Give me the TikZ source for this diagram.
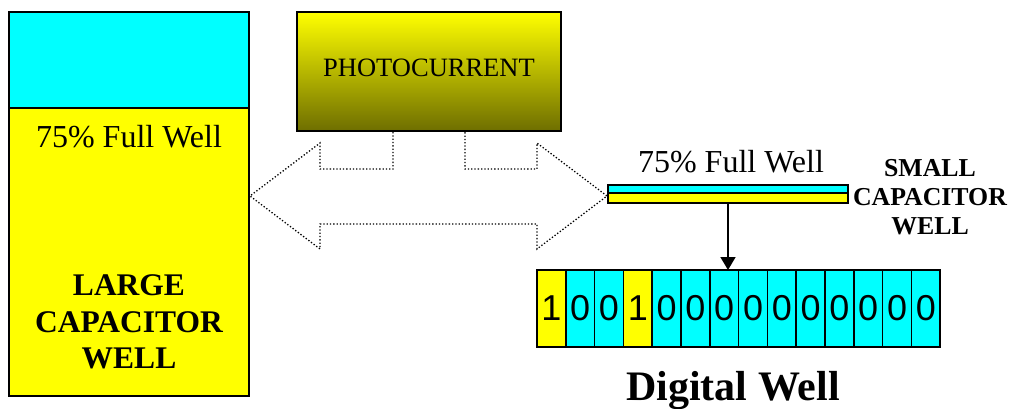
\documentclass[tikz,border=0pt]{standalone}
\usepackage{fontspec}
\setmainfont{Liberation Serif}
\newfontfamily\arialf{Liberation Sans}
\usetikzlibrary{arrows.meta,calc}
\definecolor{cyanw}{RGB}{0,255,255}
\definecolor{yelw}{RGB}{255,255,0}
\definecolor{olivew}{RGB}{110,110,0}
\tikzset{
  wellbox/.style={draw=black,line width=1.6pt,inner sep=0pt,outer sep=0pt},
  cell/.style={draw=black,line width=1.6pt,inner sep=0pt,outer sep=0pt,minimum width=28.8pt,minimum height=77pt,anchor=north west,font=\arialf\fontsize{36}{40}\selectfont},
  fullwell/.style={font=\fontsize{32}{36}\selectfont,anchor=base,inner sep=0pt},
  boldlabel/.style={font=\bfseries,align=center,inner sep=0pt},
  dotline/.style={line width=1.3pt,dash pattern=on 1.3pt off 2pt}
}
\begin{document}
\begin{tikzpicture}[x=1pt,y=-1pt]
\useasboundingbox (0,0) rectangle (1014,409);
% large capacitor well
\path[wellbox,fill=cyanw] (9,12) rectangle (249,108);
\path[wellbox,fill=yelw] (9,108) rectangle (249,396);
\node (lw) at (129,252) [minimum width=240pt,minimum height=288pt] {};
\node[fullwell] (lfw) at (129,147) {75\% Full Well};
\node[boldlabel,font=\bfseries\fontsize{31.5}{36.6}\selectfont] (llab) at (129,322) {LARGE\\CAPACITOR\\WELL};
% photocurrent box
\shade[top color=yelw,bottom color=olivew] (297,12) rectangle (561,131);
\draw[line width=1.6pt] (297,12) rectangle (561,131);
\node[font=\fontsize{26.5}{30}\selectfont,anchor=base,inner sep=0pt] (pc) at (429,77) {PHOTOCURRENT};
% dotted double arrow
\draw[dotline] (393,132) -- (393,169) -- (320,169) -- (320,143) -- (250,196) -- (320,249) -- (320,224) -- (537,224) -- (537,249) -- (607,196) -- (537,143) -- (537,169) -- (465,169) -- (465,132);
% small capacitor well
\node[wellbox,fill=cyanw,minimum width=240pt,minimum height=8pt,anchor=north west] (scc) at (608,185) {};
\node[wellbox,fill=yelw,minimum width=240pt,minimum height=10pt,anchor=north west] (scy) at (608,193) {};
\node[fullwell] (sfw) at (731,172) {75\% Full Well};
\node[boldlabel,font=\bfseries\fontsize{25.8}{29}\selectfont] (slab) at (930,197) {SMALL\\CAPACITOR\\WELL};
% digital well cells
\foreach \v/\c [count=\i] in {1/yelw,0/cyanw,0/cyanw,1/yelw,0/cyanw,0/cyanw,0/cyanw,0/cyanw,0/cyanw,0/cyanw,0/cyanw,0/cyanw,0/cyanw,0/cyanw}{
  \node[cell,fill=\c] (c\i) at ({537+(\i-1)*28.8},270) {\v};
}
\draw[line width=1.6pt,-{Triangle[length=13pt,width=15pt]}] (scy.south) -- (scy.south |- c7.north);
\node[font=\bfseries\fontsize{42}{46}\selectfont,anchor=base,inner sep=0pt] (dw) at (733,400) {Digital Well};
\end{tikzpicture}
\end{document}
